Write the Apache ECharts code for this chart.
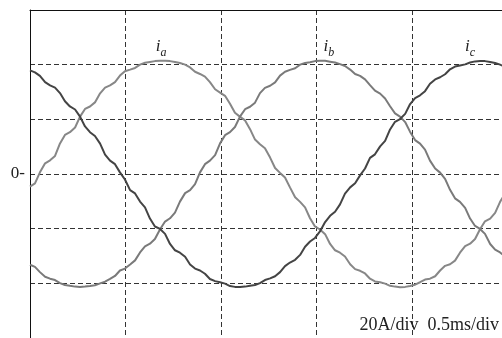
<!DOCTYPE html>
<html>
<head>
<meta charset="utf-8">
<script src="https://cdn.jsdelivr.net/npm/echarts@6/dist/echarts.min.js"></script>
<style>html,body{margin:0;padding:0;background:#fff}#c{width:502px;height:338px}</style>
</head>
<body>
<div id="c"></div>
<script>
// time in ms (0.5 ms/div), current in A (20 A/div)
const time = [0, 0.026, 0.052, 0.079, 0.105, 0.131, 0.157, 0.183, 0.209, 0.236,
  0.262, 0.288, 0.314, 0.340, 0.367, 0.393, 0.419, 0.445, 0.471, 0.497,
  0.524, 0.550, 0.576, 0.602, 0.628, 0.654, 0.681, 0.707, 0.733, 0.759,
  0.785, 0.812, 0.838, 0.864, 0.890, 0.916, 0.942, 0.969, 0.995, 1.021,
  1.047, 1.073, 1.100, 1.126, 1.152, 1.178, 1.204, 1.230, 1.257, 1.283,
  1.309, 1.335, 1.361, 1.388, 1.414, 1.440, 1.466, 1.492, 1.518, 1.545,
  1.571, 1.597, 1.623, 1.649, 1.676, 1.702, 1.728, 1.754, 1.780, 1.806,
  1.833, 1.859, 1.885, 1.911, 1.937, 1.964, 1.990, 2.016, 2.042, 2.068,
  2.094, 2.121, 2.147, 2.173, 2.199, 2.225, 2.251, 2.278, 2.304, 2.330,
  2.356, 2.382, 2.409, 2.435, 2.461, 2.487, 2.513];
const ia = [-4.6, -3.4, 0.6, 3.9, 5.0, 6.6, 11.2, 14.3, 15.3, 17.0,
  21.0, 23.8, 24.7, 26.2, 29.5, 31.6, 32.4, 33.6, 36.0, 37.6,
  38.2, 38.8, 40.0, 40.7, 41.0, 41.3, 41.4, 41.4, 41.3, 41.0,
  40.6, 40.0, 39.0, 37.4, 36.6, 35.6, 33.6, 31.0, 29.8, 28.6,
  25.7, 22.4, 20.9, 19.6, 16.4, 12.6, 10.9, 9.4, 6.0, 2.2,
  0.4, -1.3, -4.9, -8.5, -10.2, -12.2, -16.2, -19.2, -20.3, -22.0,
  -25.6, -27.9, -28.8, -30.2, -33.0, -34.8, -35.4, -36.4, -38.3, -39.3,
  -39.6, -40.1, -40.9, -41.2, -41.4, -41.3, -41.0, -40.5, -39.6, -38.6,
  -38.3, -37.4, -35.3, -33.6, -33.0, -31.7, -28.8, -26.4, -25.5, -23.8,
  -20.2, -17.3, -16.3, -14.2, -10.2, -7.1, -5.9];
const ib = [-33.2, -34.0, -35.9, -37.6, -38.3, -38.8, -39.9, -40.6, -40.9, -41.2,
  -41.3, -41.2, -41.0, -40.7, -40.0, -39.4, -38.4, -37.3, -35.3, -34.6,
  -33.1, -31.6, -28.7, -26.5, -25.5, -23.8, -20.2, -17.4, -16.2, -14.1,
  -10.1, -7.0, -5.9, -3.7, 0.6, 3.6, 4.9, 6.9, 11.2, 14.2,
  15.3, 17.2, 21.1, 23.7, 24.6, 26.1, 29.6, 31.5, 32.3, 33.5,
  36.0, 37.4, 38.1, 38.7, 40.0, 40.6, 40.9, 41.3, 41.4, 41.4,
  41.1, 40.8, 40.2, 39.5, 38.2, 36.6, 35.9, 34.6, 32.5, 30.5,
  29.4, 27.6, 24.8, 22.2, 21.0, 19.0, 15.4, 12.4, 11.1, 8.9,
  4.9, 2.0, 0.5, -1.8, -5.8, -8.9, -10.2, -12.4, -16.3, -19.0,
  -20.1, -21.9, -25.6, -27.7, -28.7, -30.2, -33.1];
const ic = [37.9, 37.2, 35.9, 33.6, 32.4, 31.6, 29.6, 26.6, 24.7, 23.6,
  21.0, 17.4, 15.3, 13.9, 11.1, 7.1, 4.9, 3.6, 0.6, -2.0,
  -5.9, -7.1, -10.1, -12.2, -16.3, -19.2, -20.1, -21.9, -25.6, -27.9,
  -28.8, -30.3, -33.1, -34.6, -35.3, -36.5, -38.4, -39.2, -39.6, -40.1,
  -41.0, -41.3, -41.3, -41.2, -40.9, -40.6, -39.9, -38.8, -38.2, -37.4,
  -35.9, -33.7, -32.4, -31.4, -29.6, -26.6, -24.7, -23.4, -21.0, -17.6,
  -15.3, -13.8, -11.1, -7.2, -4.9, -3.4, -0.5, 2.0, 5.9, 7.2,
  10.1, 12.1, 16.3, 19.1, 20.1, 22.0, 25.6, 27.8, 28.8, 30.3,
  33.0, 34.6, 35.4, 36.5, 38.3, 39.3, 39.7, 40.1, 40.8, 41.2,
  41.3, 41.3, 41.0, 40.6, 40.0, 39.2, 38.1];
const seriesNames = ['a', 'b', 'c'];
const labelAt = [[0.686, 46], [1.565, 46], [2.304, 46]];
const scaleText = '20A/div  0.5ms/div';

const serif = '"Liberation Serif", "Times New Roman", serif';
const colors = ['#878787', '#7a7a7a', '#444444'];
const vals = [ia, ib, ic];

function mk(i) {
  return {
    type: 'line',
    data: time.map((t, k) => [t, vals[i][k]]),
    showSymbol: false,
    symbol: 'none',
    lineStyle: { color: colors[i], width: 2 },
    clip: true,
    animation: false,
    markPoint: {
      symbol: 'circle', symbolSize: 0,
      itemStyle: { color: 'transparent' },
      label: {
        show: true, position: 'inside',
        formatter: '{i|i}{s|' + seriesNames[i] + '}',
        rich: {
          i: { fontFamily: serif, fontStyle: 'italic', fontSize: 17, color: '#222', verticalAlign: 'top', lineHeight: 17 },
          s: { fontFamily: serif, fontStyle: 'italic', fontSize: 12, color: '#222', verticalAlign: 'bottom', lineHeight: 21 }
        }
      },
      data: [{ coord: labelAt[i] }]
    }
  };
}

const chart = echarts.init(document.getElementById('c'), null, { renderer: 'canvas' });
chart.setOption({
  animation: false,
  backgroundColor: '#fff',
  grid: { left: 30, top: 10, width: 472, height: 330, containLabel: false },
  xAxis: {
    type: 'value', min: 0, max: 2.471, interval: 0.5, position: 'top',
    axisLine: { show: true, onZero: false, lineStyle: { color: '#111', width: 1 } },
    axisTick: { show: false }, axisLabel: { show: false },
    splitLine: { show: true, lineStyle: { color: '#333', width: 1, type: [5, 3] } }
  },
  yAxis: {
    type: 'value', min: -60, max: 60, interval: 20,
    axisLine: { show: true, lineStyle: { color: '#111', width: 1 } },
    axisTick: { show: false },
    axisLabel: {
      show: true, margin: 5, fontFamily: serif, fontSize: 17, color: '#222',
      formatter: v => (v === 0 ? '0-' : '')
    },
    splitLine: { show: true, lineStyle: { color: '#333', width: 1, type: [5, 3] } }
  },
  series: [mk(0), mk(1), mk(2)],
  graphic: [{
    type: 'text', z: 100,
    style: { text: scaleText, x: 499, y: 325, align: 'right', verticalAlign: 'middle',
      font: '18px ' + serif, fill: '#222' }
  }]
});
</script>
</body>
</html>
